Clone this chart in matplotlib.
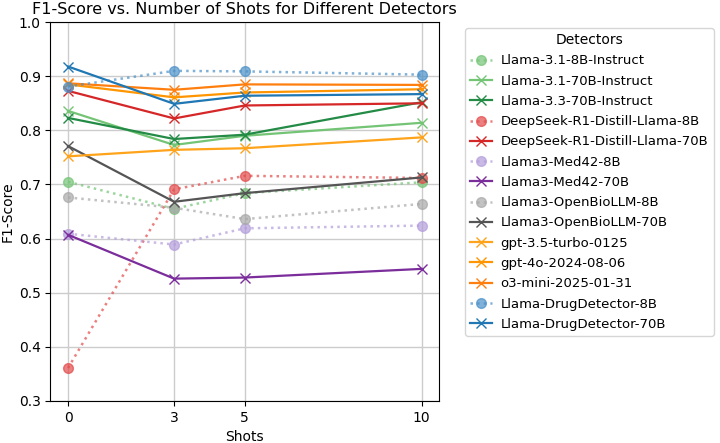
import numpy as np
import matplotlib.pyplot as plt

shots = [0, 3, 5, 10]

detectors = [
    "Llama-3.1-8B-Instruct",
    "Llama-3.1-70B-Instruct",
    "Llama-3.3-70B-Instruct",
    "DeepSeek-R1-Distill-Llama-8B",
    "DeepSeek-R1-Distill-Llama-70B",
    "Llama3-Med42-8B",
    "Llama3-Med42-70B",
    "Llama3-OpenBioLLM-8B",
    "Llama3-OpenBioLLM-70B",
    "gpt-3.5-turbo-0125",
    "gpt-4o-2024-08-06",
    "o3-mini-2025-01-31",
    "Llama-DrugDetector-8B",
    "Llama-DrugDetector-70B",
]

llama31_8b = [0.705, 0.655, 0.684, 0.704]
llama31_70b = [0.836, 0.773, 0.790, 0.814]
llama33_70b = [0.823, 0.784, 0.792, 0.852]
deepseek_8b = [0.361, 0.691, 0.716, 0.712]
deepseek_70b = [0.873, 0.822, 0.846, 0.850]
med42_8b = [0.609, 0.589, 0.619, 0.624]
med42_70b = [0.607, 0.526, 0.528, 0.544]
openbio_8b = [0.676, 0.657, 0.636, 0.664]
openbio_70b = [0.771, 0.668, 0.684, 0.713]
gpt35 = [0.752, 0.764, 0.767, 0.787]
gpt4o = [0.885, 0.861, 0.870, 0.876]
o3mini = [0.887, 0.875, 0.885, 0.884]
drug_8b = [0.881, 0.910, 0.909, 0.903]
drug_70b = [0.918, 0.849, 0.864, 0.867]

scores = [llama31_8b, llama31_70b, llama33_70b, deepseek_8b, deepseek_70b,
          med42_8b, med42_70b, openbio_8b, openbio_70b, gpt35, gpt4o, o3mini,
          drug_8b, drug_70b]

# dotted + circle for the small (8B) models
small = [True, False, False, True, False, True, False, True, False,
         False, False, False, True, False]

colors = ["#74c476", "#74c476", "#238b45", "#e34a4a", "#d62728",
          "#b39ddb", "#7b2d9b", "#a8a8a8", "#555555", "#ffa31a", "#ff9500",
          "#ff7f0e", "#4a90c8", "#1f77b4"]

fig = plt.figure(figsize=(7.2, 4.43), dpi=100)
ax = fig.add_axes([0.07, 0.095, 0.54, 0.855])

for name, vals, c, s in zip(detectors, scores, colors, small):
    if s:
        ax.plot(shots, vals, linestyle=":", marker="o", color=c, alpha=0.7,
                linewidth=1.8, markersize=7, label=name)
    else:
        ax.plot(shots, vals, linestyle="-", marker="x", color=c,
                linewidth=1.6, markersize=7, label=name)

ax.set_xlim(-0.5, 10.5)
ax.set_ylim(0.3, 1.0)
ax.set_xticks(shots)
ax.grid(True, color="#cccccc", linewidth=1)
ax.set_axisbelow(True)
ax.set_xlabel("Shots")
ax.set_ylabel("F1-Score", labelpad=3)
ax.set_title("F1-Score vs. Number of Shots for Different Detectors", fontsize=11.5)

fig.legend(*ax.get_legend_handles_labels(), title="Detectors",
           loc="upper left", bbox_to_anchor=(0.646, 0.937), borderaxespad=0,
           fontsize=9.5, title_fontsize=10, labelspacing=0.55,
           handlelength=1.6, handletextpad=0.7)

fig.savefig("out.png", dpi=100)
